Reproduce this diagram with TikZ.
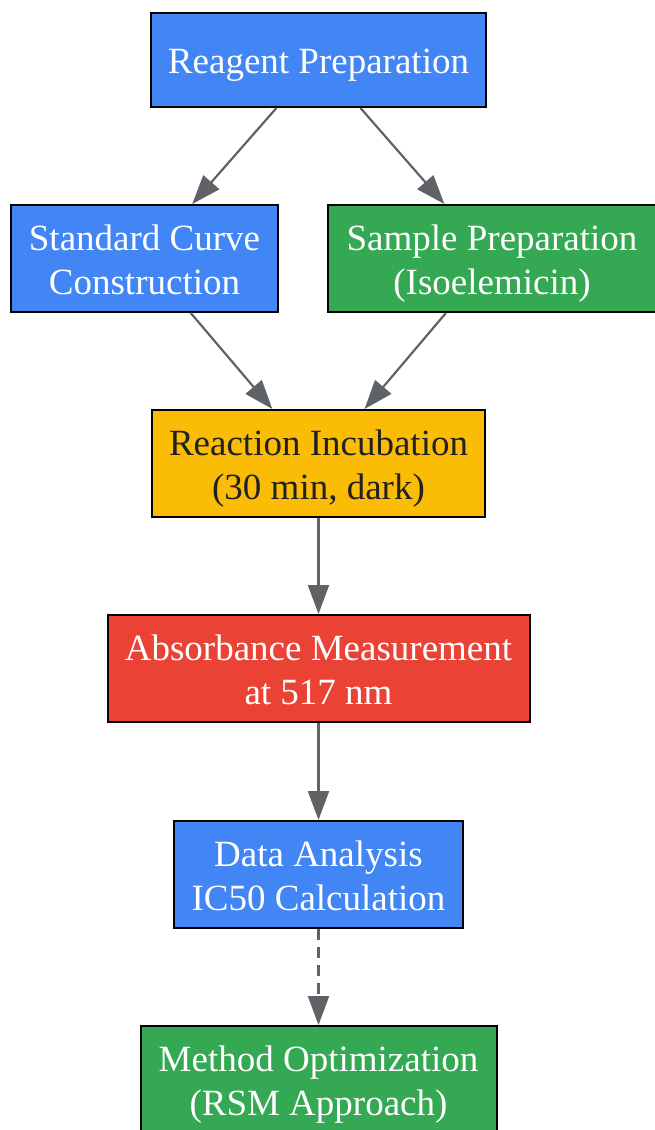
\documentclass[tikz,border=0pt]{standalone}
\usepackage{fontspec}
\setmainfont{Liberation Serif}
\usetikzlibrary{positioning,arrows.meta}
\definecolor{gblue}{HTML}{4285F4}
\definecolor{ggreen}{HTML}{34A853}
\definecolor{gyellow}{HTML}{FBBC05}
\definecolor{gred}{HTML}{EA4335}
\definecolor{ggray}{HTML}{5F6368}
\definecolor{gdark}{HTML}{202124}
\newcommand{\lift}{\rule{0pt}{1.02em}}
\begin{document}
\begin{tikzpicture}[node distance={96pt}, 
    stage/.style = {draw=black, line width=2pt, rectangle, align=center, minimum height=107pt, inner sep=0pt, text=white, font=\fontsize{37}{44}\selectfont,
      execute at begin node={\rule{0pt}{0.98em}}, execute at end node={\rule[-0.27em]{0pt}{0pt}}},
    flow/.style = {draw=ggray, line width=2.2pt, -{Triangle[length=29pt,width=21pt]}}] 
    \useasboundingbox (0,0) rectangle (655pt,-1130pt);
    \node[stage, fill=gblue, minimum width=335pt, minimum height=94pt] (reagent) at (318.5pt,-60pt) {Reagent Preparation};
    \node[stage, fill=gblue, minimum width=267pt] (curve) [below=96pt of reagent, xshift=-174pt] {\lift Standard Curve\\Construction};
    \node[stage, fill=ggreen, minimum width=329pt] (sample) [below=96pt of reagent, xshift=173.5pt] {\lift Sample Preparation\\(Isoelemicin)};
    \node[stage, fill=gyellow, text=gdark, minimum width=333pt] (incub) [below=96pt of curve, xshift=174pt] {\lift Reaction Incubation\\(30 min, dark)};
    \node[stage, fill=gred, minimum width=422pt] (absorb) [below=96pt of incub] {\lift Absorbance Measurement\\at 517 nm};
    \node[stage, fill=gblue, minimum width=289pt] (analysis) [below=97pt of absorb] {\lift Data Analysis\\IC50 Calculation};
    \node[stage, fill=ggreen, minimum width=356pt] (optim) [below=96pt of analysis] {\lift Method Optimization\\(RSM Approach)};
    \draw[flow] (reagent) -- (curve);
    \draw[flow] (reagent) -- (sample);
    \draw[flow] (curve) -- (incub);
    \draw[flow] (sample) -- (incub);
    \draw[flow] (incub) -- (absorb);
    \draw[flow] (absorb) -- (analysis);
    \draw[flow, dash pattern=on 11pt off 7pt] (analysis) -- (optim);
\end{tikzpicture}
\end{document}
